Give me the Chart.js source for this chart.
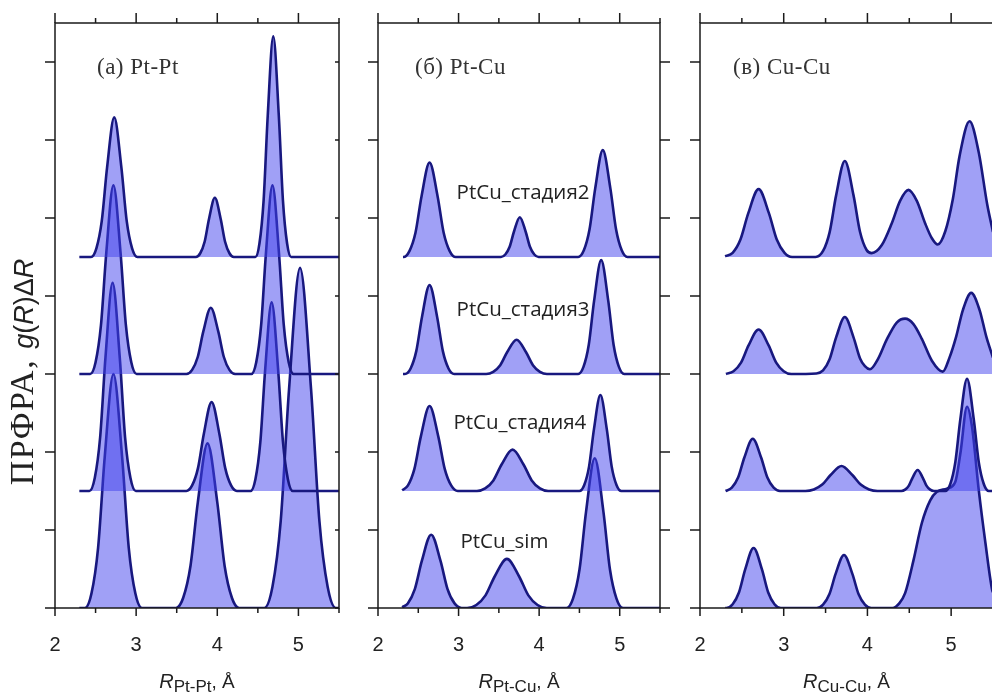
<!DOCTYPE html>
<html>
<head>
<meta charset="utf-8">
<script src="https://cdn.jsdelivr.net/npm/chart.js@4.4.1/dist/chart.umd.min.js"></script>
<style>
  html, body { margin: 0; padding: 0; background: #fff; overflow: hidden; }
  #wrap { position: relative; width: 992px; height: 693px; }
  canvas { position: absolute; left: 0; top: 0; }
</style>
</head>
<body>
<div id="wrap">
  <canvas id="c1" width="992" height="693"></canvas>
  <canvas id="c2" width="992" height="693"></canvas>
  <canvas id="c3" width="1000" height="693"></canvas>
</div>
<script>
// vertical shift of each curve (stage2, stage3, stage4, sim)
const offsets = [4.5, 3, 1.5, 0];
const seriesNames = ['PtCu_стадия2', 'PtCu_стадия3', 'PtCu_стадия4', 'PtCu_sim'];
const xMajor = [2, 3, 4, 5];
const xMinor = [2, 2.5, 3, 3.5, 4, 4.5, 5, 5.5];
const yTicks = [0, 1, 2, 3, 4, 5, 6, 7];

// [R, g(R)dR], relative to each curve's own baseline
// (а) Pt-Pt
const ptptSt2 = [[2.30,0],[2.444,0],[2.51,0.112],[2.576,0.46],[2.642,1.149],[2.73,1.79],[2.818,1.149],[2.884,0.46],[2.95,0.112],[3.016,0],
  [3.736,0],[3.79,0.048],[3.844,0.195],[3.898,0.488],[3.97,0.76],[4.042,0.488],[4.096,0.195],[4.15,0.048],[4.204,0],
  [4.469,0],[4.52,0.177],[4.571,0.727],[4.622,1.817],[4.69,2.83],[4.758,1.817],[4.809,0.727],[4.86,0.177],[4.911,0],[5.5,0]];
const ptptSt3 = [[2.30,0],[2.434,0],[2.50,0.151],[2.566,0.622],[2.632,1.554],[2.72,2.42],[2.808,1.554],[2.874,0.622],[2.94,0.151],[3.006,0],
  [3.62,0],[3.69,0.053],[3.759,0.218],[3.828,0.546],[3.92,0.85],[4.012,0.546],[4.081,0.218],[4.15,0.053],[4.22,0],
  [4.42,0],[4.48,0.151],[4.54,0.622],[4.60,1.554],[4.68,2.42],[4.76,1.554],[4.82,0.622],[4.88,0.151],[4.94,0],[5.5,0]];
const ptptSt4 = [[2.30,0],[2.424,0],[2.49,0.167],[2.556,0.686],[2.622,1.714],[2.71,2.67],[2.798,1.714],[2.864,0.686],[2.93,0.167],[2.996,0],
  [3.618,0],[3.69,0.071],[3.762,0.293],[3.834,0.732],[3.93,1.14],[4.026,0.732],[4.098,0.293],[4.17,0.071],[4.242,0],
  [4.41,0],[4.47,0.151],[4.53,0.622],[4.59,1.554],[4.67,2.42],[4.75,1.554],[4.81,0.622],[4.87,0.151],[4.93,0],[5.5,0]];
const ptptSim = [[2.30,0],[2.369,0],[2.45,0.188],[2.531,0.771],[2.612,1.926],[2.72,3.0],[2.828,1.926],[2.909,0.771],[2.99,0.188],[3.071,0],
  [3.49,0],[3.58,0.132],[3.67,0.542],[3.76,1.355],[3.88,2.11],[4.0,1.355],[4.09,0.542],[4.18,0.132],[4.27,0],
  [4.578,0],[4.68,0.273],[4.782,1.12],[4.884,2.8],[5.02,4.36],[5.156,2.8],[5.258,1.12],[5.36,0.273],[5.462,0],[5.5,0]];

// (б) Pt-Cu
const ptcuSt2 = [[2.31,0],[2.315,0],[2.39,0.076],[2.465,0.311],[2.54,0.777],[2.64,1.21],[2.74,0.777],[2.815,0.311],[2.89,0.076],[2.965,0],
  [3.526,0],[3.58,0.032],[3.634,0.131],[3.688,0.327],[3.76,0.51],[3.832,0.327],[3.886,0.131],[3.94,0.032],[3.994,0],
  [4.484,0],[4.555,0.086],[4.625,0.352],[4.696,0.88],[4.79,1.37],[4.884,0.88],[4.955,0.352],[5.025,0.086],[5.096,0],[5.5,0]];
const ptcuSt3 = [[2.31,0],[2.334,0],[2.405,0.071],[2.475,0.293],[2.546,0.732],[2.64,1.14],[2.734,0.732],[2.805,0.293],[2.875,0.071],[2.946,0],
  [3.343,0],[3.43,0.028],[3.517,0.113],[3.604,0.282],[3.72,0.44],[3.836,0.282],[3.923,0.113],[4.01,0.028],[4.097,0],
  [4.484,0],[4.55,0.091],[4.616,0.375],[4.682,0.937],[4.77,1.46],[4.858,0.937],[4.924,0.375],[4.99,0.091],[5.056,0],[5.5,0]];
const ptcuSt4 = [[2.30,0.01],[2.37,0.068],[2.451,0.28],[2.532,0.70],[2.64,1.09],[2.748,0.70],[2.829,0.28],[2.91,0.068],[2.991,0],
  [3.228,0],[3.33,0.033],[3.432,0.136],[3.534,0.34],[3.67,0.53],[3.806,0.34],[3.908,0.136],[4.01,0.033],[4.112,0],
  [4.50,0],[4.56,0.077],[4.62,0.316],[4.68,0.79],[4.76,1.23],[4.84,0.79],[4.90,0.316],[4.96,0.077],[5.02,0],[5.5,0]];
const ptcuSim = [[2.30,0.01],[2.37,0.059],[2.457,0.242],[2.544,0.603],[2.66,0.94],[2.776,0.603],[2.863,0.242],[2.95,0.059],[3.037,0],
  [3.106,0],[3.22,0.039],[3.334,0.162],[3.448,0.404],[3.60,0.63],[3.752,0.404],[3.866,0.162],[3.98,0.039],[4.094,0],
  [4.339,0],[4.42,0.12],[4.501,0.493],[4.582,1.233],[4.69,1.92],[4.798,1.233],[4.879,0.493],[4.96,0.12],[5.041,0],[5.5,0]];

// (в) Cu-Cu
const cucuSt2 = [[2.30,0.01],[2.39,0.054],[2.483,0.224],[2.576,0.559],[2.70,0.87],[2.824,0.559],[2.917,0.224],[3.01,0.054],[3.10,0],
  [3.38,0],[3.47,0.077],[3.548,0.316],[3.626,0.79],[3.73,1.23],[3.834,0.79],[3.912,0.32],[3.99,0.09],[4.05,0.05],
  [4.17,0.15],[4.29,0.43],[4.39,0.72],[4.49,0.86],[4.59,0.72],[4.69,0.43],[4.77,0.24],[4.84,0.16],
  [4.93,0.33],[5.02,0.74],[5.10,1.29],[5.22,1.74],[5.33,1.34],[5.43,0.68],[5.5,0.32]];
const cucuSt3 = [[2.31,0],[2.40,0.036],[2.49,0.146],[2.58,0.366],[2.70,0.57],[2.82,0.366],[2.91,0.146],[3.0,0.036],[3.09,0],
  [3.39,0.007],[3.47,0.046],[3.548,0.188],[3.626,0.469],[3.73,0.73],[3.834,0.47],[3.912,0.2],[3.97,0.1],[4.03,0.06],
  [4.13,0.2],[4.23,0.44],[4.35,0.66],[4.45,0.71],[4.55,0.64],[4.65,0.45],[4.77,0.17],[4.9,0.03],
  [4.98,0.21],[5.06,0.48],[5.14,0.82],[5.24,1.04],[5.34,0.82],[5.42,0.48],[5.5,0.21]];
const cucuSt4 = [[2.305,0],[2.38,0.042],[2.455,0.172],[2.53,0.43],[2.63,0.67],[2.73,0.43],[2.805,0.172],[2.88,0.042],[2.955,0],
  [3.26,0],[3.36,0.02],[3.46,0.082],[3.56,0.205],[3.69,0.32],[3.82,0.205],[3.92,0.082],[4.02,0.02],[4.12,0],
  [4.405,0],[4.45,0.017],[4.495,0.069],[4.54,0.173],[4.60,0.27],[4.66,0.173],[4.705,0.069],[4.75,0.017],[4.795,0],
  [4.93,0],[4.99,0.09],[5.05,0.37],[5.11,0.92],[5.19,1.44],[5.27,0.92],[5.33,0.37],[5.39,0.09],[5.45,0],[5.5,0]];
const cucuSim = [[2.30,0],[2.315,0],[2.39,0.048],[2.465,0.198],[2.54,0.494],[2.64,0.77],[2.74,0.494],[2.815,0.198],[2.89,0.048],[2.965,0],
  [3.395,0],[3.47,0.043],[3.545,0.175],[3.62,0.437],[3.72,0.68],[3.82,0.437],[3.895,0.175],[3.97,0.043],[4.045,0],
  [4.30,0],[4.38,0.06],[4.45,0.19],[4.55,0.61],[4.65,1.09],[4.75,1.38],[4.83,1.49],[4.95,1.53],[5.05,1.62],
  [5.11,1.98],[5.19,2.58],[5.25,2.32],[5.33,1.51],[5.41,0.83],[5.49,0.23],[5.5,0.2]];

const lineColor = '#18187f';
const fillColor = 'rgba(66, 66, 238, 0.5)';
const axisColor = '#1a1a1a';
const sans = '"Liberation Sans", Arial, sans-serif';
const serif = '"Liberation Serif", "Times New Roman", serif';

// draws the box, the ticks and all the texts of one panel
const frameTicks = {
  id: 'frameTicks',
  afterDatasetsDraw(chart, args, o) {
    const { ctx, chartArea: a, scales: { x, y } } = chart;
    ctx.save();
    ctx.strokeStyle = axisColor;
    ctx.lineWidth = 1.5;
    ctx.strokeRect(a.left, a.top, a.right - a.left, a.bottom - a.top);
    ctx.beginPath();
    xMinor.forEach(v => {
      const px = x.getPixelForValue(v);
      const big = xMajor.includes(v);
      ctx.moveTo(px, a.bottom); ctx.lineTo(px, a.bottom + (big ? 8 : 5));
      ctx.moveTo(px, a.top); ctx.lineTo(px, a.top - (big ? 10 : 5));
    });
    yTicks.forEach(v => {
      const py = y.getPixelForValue(v);
      ctx.moveTo(a.left, py); ctx.lineTo(a.left - 10, py);
      if (o.rightTick) { ctx.moveTo(a.right, py); ctx.lineTo(a.right + o.rightTick, py); }
    });
    ctx.stroke();

    // tick labels
    ctx.fillStyle = '#222';
    ctx.font = '20px ' + sans;
    ctx.textAlign = 'center';
    ctx.textBaseline = 'middle';
    xMajor.forEach(v => ctx.fillText(String(v), x.getPixelForValue(v), a.bottom + 37));

    // x title with subscript
    const parts = [
      { t: 'R', f: 'italic 20px ' + sans, dy: 0 },
      { t: o.sub, f: '17px ' + sans, dy: 4 },
      { t: ', Å', f: '19px ' + sans, dy: 0 }
    ];
    let w = 0;
    parts.forEach(p => { ctx.font = p.f; p.w = ctx.measureText(p.t).width; w += p.w; });
    let cx = (a.left + a.right) / 2 - w / 2;
    ctx.textAlign = 'left';
    ctx.textBaseline = 'alphabetic';
    parts.forEach(p => { ctx.font = p.f; ctx.fillText(p.t, cx, 688 + p.dy); cx += p.w; });

    // panel label
    ctx.fillStyle = '#333';
    ctx.font = '23px ' + serif;
    ctx.letterSpacing = '0.5px';
    ctx.fillText(o.label, a.left + o.labelDx, a.top + 51);
    ctx.letterSpacing = '0px';

    // series names
    if (o.names) {
      ctx.fillStyle = '#222';
      ctx.font = '20.5px "Open Sans", ' + sans;
      ctx.textAlign = 'center';
      ctx.textBaseline = 'middle';
      o.names.forEach((n, i) => ctx.fillText(n, x.getPixelForValue(o.namePos[i][0]), y.getPixelForValue(o.namePos[i][1])));
    }

    // y title, only once
    if (o.yTitle) {
      ctx.translate(33, 372);
      ctx.rotate(-Math.PI / 2);
      const yp = [
        { t: 'ПРФРА, ', f: '34px ' + serif, ls: '1.5px' },
        { t: 'g', f: 'italic 27px ' + sans, ls: '0px' },
        { t: '(', f: '27px ' + sans, ls: '0px' },
        { t: 'R', f: 'italic 27px ' + sans, ls: '0px' },
        { t: ')Δ', f: '27px ' + sans, ls: '0px' },
        { t: 'R', f: 'italic 27px ' + sans, ls: '0px' }
      ];
      let tw = 0;
      yp.forEach(p => { ctx.font = p.f; ctx.letterSpacing = p.ls; p.w = ctx.measureText(p.t).width; tw += p.w; });
      let tx = -tw / 2;
      ctx.fillStyle = '#222';
      ctx.textAlign = 'left';
      yp.forEach(p => { ctx.font = p.f; ctx.letterSpacing = p.ls; ctx.fillText(p.t, tx, 0); tx += p.w; });
    }
    ctx.restore();
  }
};

function makePanel(id, curves, pad, opts) {
  return new Chart(document.getElementById(id), {
    type: 'line',
    data: {
      datasets: curves.map((pts, i) => ({
        data: pts.map(p => ({ x: p[0], y: p[1] + offsets[i] })),
        fill: { value: offsets[i] },
        borderColor: lineColor,
        backgroundColor: fillColor,
        borderWidth: 2.6,
        pointRadius: 0,
        cubicInterpolationMode: 'monotone'
      }))
    },
    options: {
      responsive: false,
      animation: false,
      events: [],
      layout: { padding: pad },
      plugins: { legend: { display: false }, tooltip: { enabled: false }, frameTicks: opts },
      scales: {
        x: { type: 'linear', min: 2, max: 5.5, display: false },
        y: { type: 'linear', min: 0, max: 7.5, display: false }
      }
    },
    plugins: [frameTicks]
  });
}

makePanel('c1', [ptptSt2, ptptSt3, ptptSt4, ptptSim],
  { left: 55, right: 992 - 339, top: 23, bottom: 693 - 608 },
  { sub: 'Pt-Pt', label: '(а) Pt-Pt', labelDx: 42, rightTick: -4, yTitle: true });

makePanel('c2', [ptcuSt2, ptcuSt3, ptcuSt4, ptcuSim],
  { left: 378, right: 992 - 660, top: 23, bottom: 693 - 608 },
  { sub: 'Pt-Cu', label: '(б) Pt-Cu', labelDx: 37, rightTick: 10,
    names: seriesNames, namePos: [[3.8, 5.32], [3.8, 3.82], [3.76, 2.37], [3.57, 0.85]] });

makePanel('c3', [cucuSt2, cucuSt3, cucuSt4, cucuSim],
  { left: 700, right: 1000 - 993, top: 23, bottom: 693 - 608 },
  { sub: 'Cu-Cu', label: '(в) Cu-Cu', labelDx: 33, rightTick: 0 });
</script>
</body>
</html>
